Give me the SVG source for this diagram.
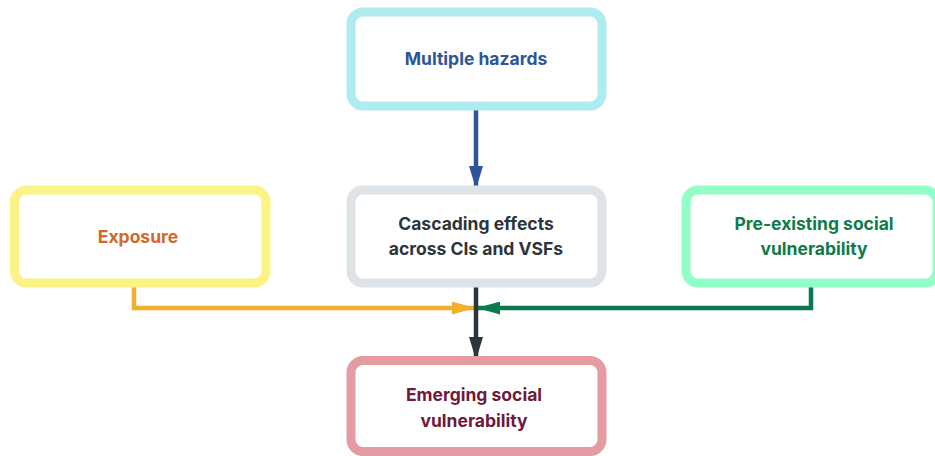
<svg xmlns="http://www.w3.org/2000/svg" width="935" height="456" viewBox="0 0 935 456">
  <defs>
    <style>
      .box { fill: #ffffff; stroke-width: 9; }
      .label { font-family: Inter, "Liberation Sans", sans-serif; font-weight: 700; font-size: 17.5px; text-anchor: middle; }
      .wire { fill: none; stroke-width: 4.5; stroke-linejoin: miter; }
    </style>
    <marker id="headBlue" viewBox="0 0 23 14" refX="23" refY="7" markerWidth="23" markerHeight="14" markerUnits="userSpaceOnUse" orient="auto">
      <path d="M0,0 L23,7 L0,14 Z" fill="#2d5597"/>
    </marker>
    <marker id="headDark" viewBox="0 0 23 14" refX="23" refY="7" markerWidth="23" markerHeight="14" markerUnits="userSpaceOnUse" orient="auto">
      <path d="M0,0 L23,7 L0,14 Z" fill="#2d343a"/>
    </marker>
    <marker id="headYellow" viewBox="0 0 23 13" refX="23" refY="6.5" markerWidth="23" markerHeight="13" markerUnits="userSpaceOnUse" orient="auto">
      <path d="M0,0 L23,6.5 L0,13 Z" fill="#f0b02c"/>
    </marker>
    <marker id="headGreen" viewBox="0 0 23 13" refX="23" refY="6.5" markerWidth="23" markerHeight="13" markerUnits="userSpaceOnUse" orient="auto">
      <path d="M0,0 L23,6.5 L0,13 Z" fill="#0a7a4e"/>
    </marker>
  </defs>

  <rect width="935" height="456" fill="#ffffff"/>

  <g id="connectors">
    <path class="wire" d="M476,110 V189" stroke="#2d5597" marker-end="url(#headBlue)"/>
    <path class="wire" d="M134,287 V308 H475" stroke="#f0b02c" marker-end="url(#headYellow)"/>
    <path class="wire" d="M811,287 V308 H477" stroke="#0a7a4e" marker-end="url(#headGreen)"/>
    <path class="wire" d="M476,287 V360" stroke="#2d343a" marker-end="url(#headDark)"/>
  </g>

  <g id="multiple-hazards">
    <rect class="box" x="351" y="12" width="251" height="94" rx="12" stroke="#aeecef"/>
    <text class="label" x="476" y="65" fill="#2e5597">Multiple hazards</text>
  </g>

  <g id="exposure">
    <rect class="box" x="14.5" y="190" width="251.5" height="93" rx="12" stroke="#fbf385"/>
    <text class="label" x="138" y="243" fill="#d2692a">Exposure</text>
  </g>

  <g id="cascading-effects">
    <rect class="box" x="351" y="190" width="251" height="93" rx="12" stroke="#dde3e6"/>
    <text class="label" x="476" y="230" fill="#2d343a">Cascading effects</text>
    <text class="label" x="476" y="255" fill="#2d343a">across CIs and VSFs</text>
  </g>

  <g id="pre-existing">
    <rect class="box" x="686" y="190" width="251" height="93" rx="12" stroke="#92ffc8"/>
    <text class="label" x="814" y="230" fill="#0e7c4a">Pre-existing social</text>
    <text class="label" x="814" y="255" fill="#0e7c4a">vulnerability</text>
  </g>

  <g id="emerging">
    <rect class="box" x="351" y="360.5" width="251" height="91" rx="12" stroke="#e49ba2"/>
    <text class="label" x="474" y="401" fill="#6e1a3a">Emerging social</text>
    <text class="label" x="474" y="427" fill="#6e1a3a">vulnerability</text>
  </g>
</svg>
